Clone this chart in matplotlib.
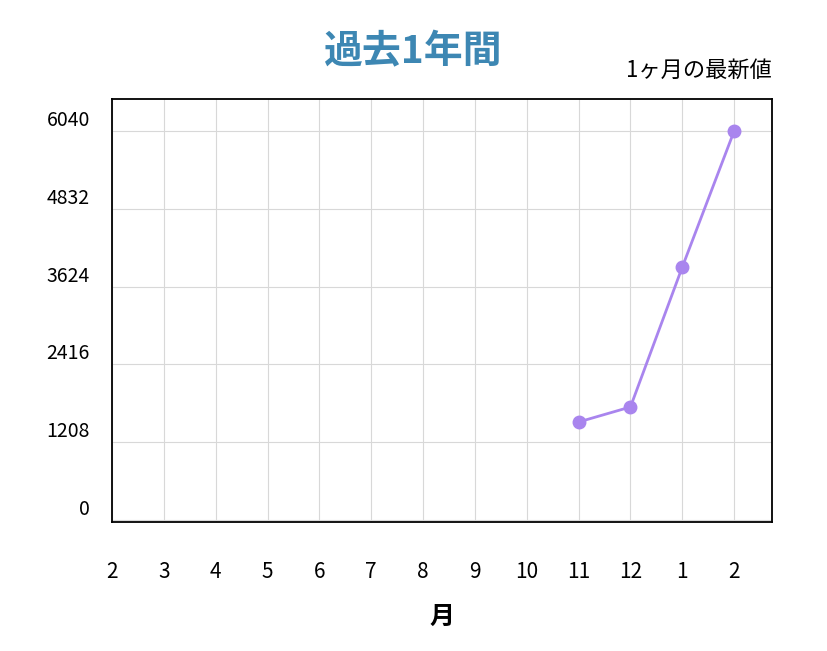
import matplotlib
matplotlib.use("Agg")
import matplotlib.pyplot as plt

plt.rcParams['font.family'] = ['Noto Sans CJK JP', 'DejaVu Sans']

months = ["2","3","4","5","6","7","8","9","10","11","12","1","2"]
data_idx = [9, 10, 11, 12]
values = [1522, 1755, 3928, 6040]
yticks = [0, 1208, 2416, 3624, 4832, 6040]

W, H = 828, 651
fig = plt.figure(figsize=(W/100, H/100), dpi=100)
ax = fig.add_axes([112/W, 1-522/H, 660/W, 423/H])
ax.plot(data_idx, values, color="#a985ee", lw=2, marker="o", ms=9, zorder=3)
ax.set_xlim(0.04, 12.73)
ax.set_ylim(-31, 6537)
ax.set_xticks(range(len(months)))
ax.set_xticklabels(months, fontsize=15)
ax.set_yticks(yticks)
ax.set_yticklabels([str(v) for v in yticks], fontsize=14, va="bottom")
ax.tick_params(length=0)
ax.tick_params(axis='x', pad=28)
ax.tick_params(axis='y', pad=16)
ax.grid(True, color="#d8d8d8", lw=0.8)
for s in ax.spines.values():
    s.set_linewidth(1.3)
ax.set_xlabel("月", fontsize=18, fontweight="bold", labelpad=16)
fig.text(413/W, 1-52/H, "過去1年間", ha="center", va="center", fontsize=28,
         fontweight="bold", color="#3d87b3")
fig.text(772/W, 1-70/H, "1ヶ月の最新値", ha="right", va="center", fontsize=16)
fig.savefig("out.png", dpi=100)
